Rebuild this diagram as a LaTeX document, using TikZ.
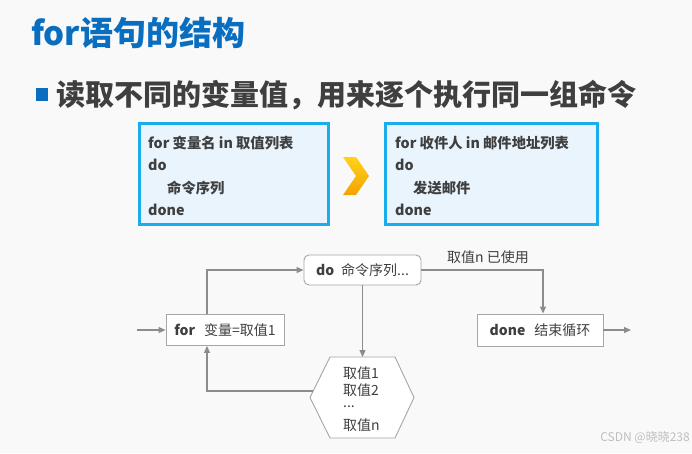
\documentclass[tikz,border=0pt]{standalone}
\usepackage{fontspec}
\setmainfont{Noto Sans CJK SC}
\newfontfamily\cjk{Noto Sans CJK SC}
\usetikzlibrary{arrows.meta}
\definecolor{bg}{HTML}{F9F9F9}
\definecolor{titleblue}{HTML}{0A6EC0}
\definecolor{darktext}{HTML}{3F3F3F}
\definecolor{codeborder}{HTML}{19AEEB}
\definecolor{codefill}{HTML}{EAF4FC}
\definecolor{linegray}{HTML}{8C8C8C}
\definecolor{boxgray}{HTML}{A6A6A6}
\definecolor{chevtop}{HTML}{FFD21A}
\definecolor{chevbot}{HTML}{F2A300}
\tikzset{
  codebox/.style={draw=codeborder, line width=3pt, fill=codefill},
  codetext/.style={anchor=west, inner sep=0pt, text=darktext, font=\fontsize{14.3}{16}\selectfont\bfseries},
  flowbox/.style={draw=boxgray, line width=0.9pt, fill=white, text=darktext, font=\fontsize{14}{16}\selectfont, inner sep=0pt},
  conn/.style={draw=linegray, line width=1.1pt, -{Triangle[length=7pt,width=6pt]}},
  flowtext/.style={text=darktext, font=\fontsize{14}{16}\selectfont, inner sep=0pt},
}
\begin{document}
\begin{tikzpicture}[x=1pt,y=-1pt]
\fill[bg] (0,0) rectangle (692,453);
\useasboundingbox (0,0) rectangle (692,453);
% title
\node[anchor=west, inner sep=0pt, text=titleblue, font=\fontsize{33}{36}\selectfont\bfseries] (title) at (31,33) {for语句的结构};
% bullet
\fill[titleblue] (36,88) rectangle (48,101);
\node[anchor=west, inner sep=0pt, text=darktext, font=\fontsize{29}{32}\selectfont\bfseries] (sub) at (56,95) {读取不同的变量值，用来逐个执行同一组命令};
% code boxes
\draw[codebox] (139.5,123.5) rectangle (328.5,224);
\draw[codebox] (385.5,123.5) rectangle (597,224);
\node[codetext] (c1a) at (148,143) {for 变量名 in 取值列表};
\node[codetext] (c1b) at (148,165) {do};
\node[codetext] (c1c) at (167,188) {命令序列};
\node[codetext] (c1d) at (148,210) {done};
\node[codetext] (c2a) at (395,143) {for 收件人 in 邮件地址列表};
\node[codetext] (c2b) at (395,165) {do};
\node[codetext] (c2c) at (413,188) {发送邮件};
\node[codetext] (c2d) at (395,210) {done};
% chevron
\shade[top color=chevtop, bottom color=chevbot] (343,157) -- (356,157) -- (369,176) -- (356,195) -- (343,195) -- (356,176) -- cycle;
% flow
\node[flowbox, minimum width=118pt, minimum height=31pt] (for) at (225,330) {\textbf{for}\hspace{9pt}变量=取值1};
\node[flowbox, rounded corners=5pt, minimum width=117pt, minimum height=30pt] (do) at (362.5,270) {\textbf{do}\hspace{7pt}命令序列...};
\node[flowbox, minimum width=126pt, minimum height=32pt] (done) at (540,330) {\textbf{done}\hspace{9pt}结束循环};
\draw[boxgray, line width=0.9pt, fill=white] (330,357) -- (395,357) -- (414,397.5) -- (395,438) -- (330,438) -- (310,397.5) -- cycle;
\coordinate (hexT) at (362.5,357);
\coordinate (hexA) at (313,391);
\node[flowtext, anchor=west] (v1) at (343,373) {取值1};
\node[flowtext, anchor=west] (v2) at (343,390) {取值2};
\node[flowtext, anchor=west] (v3) at (343,407) {...};
\node[flowtext, anchor=west] (v4) at (343,425) {取值n};
\coordinate (in) at (137,330);
\coordinate (out) at (631,330);
\draw[conn] (in) -- (for.west);
\draw[conn] ([xshift=-18pt]for.north) |- (do.west);
\draw[conn] (do.south) -- (hexT);
\draw[conn] (hexA) -| ([xshift=-18pt]for.south);
\draw[conn] (do.east) -| ([xshift=3pt]done.north);
\draw[conn] (done.east) -- (out);
\node[flowtext] (used) at (488,257) {取值n 已使用};
% watermark
\node[anchor=east, inner sep=0pt, text=black!25, font=\fontsize{12}{14}\selectfont] (wm) at (690,438) {CSDN @晓晓238};
\end{tikzpicture}
\end{document}
